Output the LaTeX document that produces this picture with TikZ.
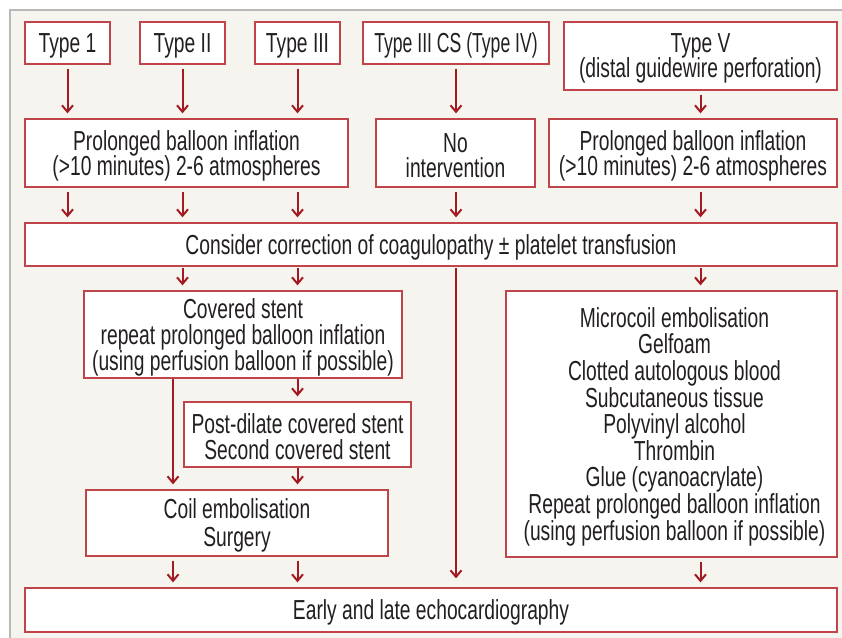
\documentclass[tikz,border=0pt]{standalone}
\usepackage{fontspec}
\setmainfont{Liberation Sans}[FakeStretch=0.70]
\usetikzlibrary{arrows.meta}
\definecolor{bgcol}{HTML}{F6F4EE}
\definecolor{framegray}{HTML}{B8B8B8}
\definecolor{boxred}{HTML}{C0454B}
\definecolor{arrred}{HTML}{A31A22}
\definecolor{txt}{HTML}{231F20}
\newcommand{\fsz}[1]{\fontsize{27.5bp}{#1}\selectfont\lineskiplimit=-100pt\relax}
\tikzset{
  box/.style={draw=boxred, fill=white, line width=1.3bp, inner sep=0pt},
  tx/.style={align=center, text=txt, inner sep=0pt, yshift=-2.5bp, font=\fsz{26bp}},
  tight/.style={tx, font=\fsz{25bp}},
  loose/.style={tx, font=\fsz{28bp}},
  list/.style={tx, font=\fsz{26.6bp}},
  arr/.style={draw=arrred, line width=2bp, -{Straight Barb[length=6.5bp,width=11bp,line width=2bp]},
    shorten >=5bp, shorten <=4bp}
}
\begin{document}
\begin{tikzpicture}[x=1bp,y=-1bp]
\useasboundingbox (0,0) rectangle (842,638);
\fill[bgcol] (10,10) rectangle (842,638);
\draw[framegray, line width=2bp] (10,638) -- (10,10) -- (842,10);

\node[box, minimum width=85bp, minimum height=42bp, label={[tx]center:Type 1}] (t1) at (67.5,43) {};
\node[box, minimum width=85bp, minimum height=42bp, label={[tx]center:Type II}] (t2) at (182.5,43) {};
\node[box, minimum width=85bp, minimum height=42bp, label={[tx]center:Type III}] (t3) at (297.5,43) {};
\node[box, minimum width=186bp, minimum height=42bp, label={[tx, font=\fsz{26bp}\addfontfeatures{FakeStretch=0.64}]center:Type III CS (Type IV)}] (t4) at (456,43) {};
\node[box, minimum width=273bp, minimum height=68bp, label={[tx, font=\fsz{25.5bp}]center:Type V\\(distal guidewire perforation)}] (t5) at (700.5,56) {};

\node[box, minimum width=323bp, minimum height=68bp, label={[tight]center:Prolonged balloon inflation\\(>10 minutes) 2-6 atmospheres}] (p1) at (186.5,153) {};
\node[box, minimum width=159bp, minimum height=68bp, label={[tight]center:No\\intervention}] (ni) at (455.5,153) {};
\node[box, minimum width=288bp, minimum height=68bp, label={[tight]center:Prolonged balloon inflation\\(>10 minutes) 2-6 atmospheres}] (p2) at (693,153) {};

\node[box, minimum width=812bp, minimum height=43bp, label={[tx]center:Consider correction of coagulopathy ± platelet transfusion}] (cc) at (431,244.5) {};

\node[box, minimum width=318bp, minimum height=87bp, label={[tx]center:Covered stent\\repeat prolonged balloon inflation\\(using perfusion balloon if possible)}] (cs) at (243,334.5) {};
\node[box, minimum width=227bp, minimum height=65bp, label={[tx]center:Post-dilate covered stent\\Second covered stent}] (pd) at (297.5,434.5) {};
\node[box, minimum width=331bp, minimum height=266bp, label={[list, xshift=3bp]center:Microcoil embolisation\\Gelfoam\\Clotted autologous blood\\Subcutaneous tissue\\Polyvinyl alcohol\\Thrombin\\Glue (cyanoacrylate)\\Repeat prolonged balloon inflation\\(using perfusion balloon if possible)}] (rb) at (671.5,424) {};
\node[box, minimum width=302bp, minimum height=66bp, label={[loose]center:Coil embolisation\\Surgery}] (ce) at (237,523) {};
\node[box, minimum width=812bp, minimum height=44bp, label={[tx]center:Early and late echocardiography}] (el) at (431,610) {};

% top row
\draw[arr] (t1.south) -- (t1.south |- p1.north);
\draw[arr] (t2.south) -- (t2.south |- p1.north);
\draw[arr] (t3.south) -- (t3.south |- p1.north);
\draw[arr] (t4.south) -- (t4.south |- ni.north);
\draw[arr] (t5.south) -- (t5.south |- p2.north);
% second row to consider
\draw[arr] (t1 |- p1.south) -- (t1 |- cc.north);
\draw[arr] (t2 |- p1.south) -- (t2 |- cc.north);
\draw[arr] (t3 |- p1.south) -- (t3 |- cc.north);
\draw[arr] (t4 |- ni.south) -- (t4 |- cc.north);
\draw[arr] (t5 |- p2.south) -- (t5 |- cc.north);
% consider outputs
\draw[arr, shorten <=1.5bp] (t2 |- cc.south) -- (t2 |- cs.north);
\draw[arr, shorten <=1.5bp] (t3 |- cc.south) -- (t3 |- cs.north);
\draw[arr, shorten <=1.5bp] (t5 |- cc.south) -- (t5 |- rb.north);
\draw[arr, shorten <=1.5bp, shorten >=9bp] (t4 |- cc.south) -- (t4 |- el.north);
% left branch
\draw[arr, shorten <=0.5bp] (t3 |- cs.south) -- (pd.north);
\draw[arr, shorten <=0.5bp] ([xshift=-70bp]cs.south) -- ([xshift=-70bp]cs.south |- ce.north);
\draw[arr, shorten <=0.5bp] (pd.south) -- (pd.south |- ce.north);
% to echo
\draw[arr] ([xshift=-64bp]ce.south) -- ([xshift=-64bp]ce.south |- el.north);
\draw[arr] (t3 |- ce.south) -- (t3 |- el.north);
\draw[arr] (t5 |- rb.south) -- (t5 |- el.north);
\end{tikzpicture}
\end{document}
